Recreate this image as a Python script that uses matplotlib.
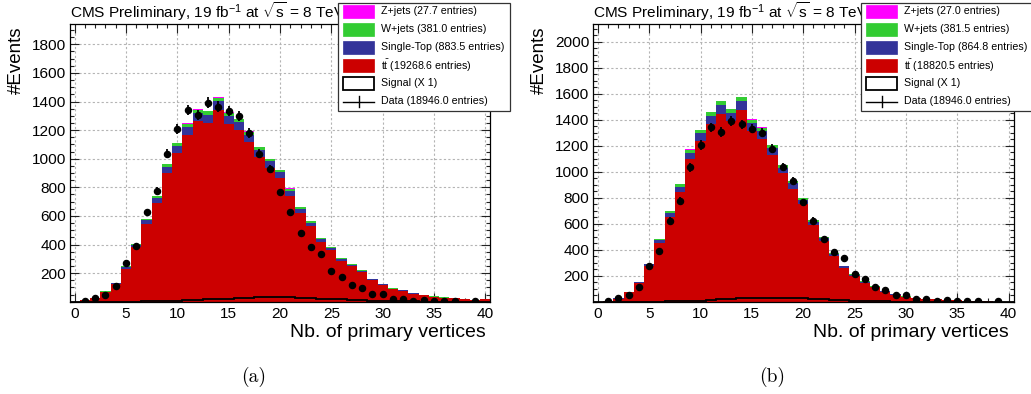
import numpy as np
import matplotlib
matplotlib.use("Agg")
import matplotlib.pyplot as plt
from matplotlib.patches import Rectangle
from matplotlib.lines import Line2D
from matplotlib.ticker import MultipleLocator

plt.rcParams["font.family"] = ["Liberation Sans", "DejaVu Sans"]
plt.rcParams["mathtext.fontset"] = "custom"
plt.rcParams["mathtext.rm"] = "Liberation Sans"
plt.rcParams["mathtext.it"] = "Liberation Sans:italic"
plt.rcParams["mathtext.bf"] = "Liberation Sans:bold"

W, H, DPI = 1031, 394, 100

# number of primary vertices (bin centres 0..40)
n_pv = np.arange(0, 41)

# observed data, shared by both panels
data_counts = [0, 3, 25, 50, 110, 272, 391, 624, 775, 1034, 1206, 1341, 1306, 1392,
               1365, 1332, 1300, 1178, 1036, 929, 764, 624, 480, 384, 335, 216, 172,
               116, 93, 51, 51, 22, 17, 6, 13, 3, 4, 2, 0, 2, 0]
data_entries = 18946.0

# panel (a) simulation
tt_a = [0, 10, 24, 68, 122, 231, 380, 543, 691, 902, 1039, 1169, 1261, 1250, 1341,
        1241, 1200, 1117, 1015, 938, 864, 742, 620, 528, 419, 360, 288, 247, 206,
        151, 119, 87, 76, 56, 46, 34, 28, 25, 17, 13, 17]
st_a = [0, 0, 1, 3, 6, 11, 18, 25, 32, 41, 48, 54, 58, 57, 61, 57, 55, 51, 47, 43,
        40, 34, 28, 24, 19, 17, 13, 11, 9, 7, 5, 4, 4, 3, 2, 2, 1, 1, 1, 1, 1]
wj_a = [0, 0, 0, 1, 2, 5, 8, 11, 14, 18, 20, 23, 25, 25, 26, 25, 24, 22, 20, 19,
        17, 15, 12, 10, 8, 7, 6, 5, 4, 3, 2, 2, 2, 1, 1, 1, 1, 0, 0, 0, 0]
zj_a = [0, 0, 0, 0, 0, 0, 1, 1, 1, 1, 1, 2, 2, 2, 2, 2, 2, 2, 1, 1,
        1, 1, 1, 1, 1, 0, 0, 0, 0, 0, 0, 0, 0, 0, 0, 0, 0, 0, 0, 0, 0]
sig_a = [0, 0, 0, 0, 0, 0, 1, 2, 3, 5, 7, 10, 13, 16, 19, 22, 25, 28, 30, 31, 31,
         30, 28, 25, 22, 19, 16, 13, 10, 8, 6, 4, 3, 2, 1, 1, 0, 0, 0, 0, 0]
yields_a = [27.7, 381.0, 883.5, 19268.6]

# panel (b) simulation
tt_b = [0, 5, 24, 73, 142, 276, 455, 655, 847, 1098, 1240, 1370, 1447, 1392, 1478,
        1315, 1256, 1130, 987, 871, 751, 590, 466, 351, 259, 199, 146, 111, 78,
        55, 38, 29, 22, 17, 12, 10, 5, 3, 2, 1, 1]
st_b = [0, 0, 1, 3, 6, 13, 21, 30, 39, 50, 57, 63, 66, 64, 68, 60, 58, 52, 45, 40,
        34, 27, 21, 16, 12, 9, 7, 5, 4, 3, 2, 1, 1, 1, 1, 0, 0, 0, 0, 0, 0]
wj_b = [0, 0, 0, 1, 3, 5, 9, 13, 17, 22, 24, 27, 29, 27, 29, 26, 25, 22, 19, 17,
        15, 12, 9, 7, 5, 4, 3, 2, 2, 1, 1, 1, 0, 0, 0, 0, 0, 0, 0, 0, 0]
zj_b = [0, 0, 0, 0, 0, 0, 1, 1, 1, 2, 2, 2, 2, 2, 2, 2, 2, 2, 1, 1,
        1, 1, 1, 0, 0, 0, 0, 0, 0, 0, 0, 0, 0, 0, 0, 0, 0, 0, 0, 0, 0]
sig_b = [0, 0, 0, 0, 0, 0, 1, 2, 4, 6, 9, 13, 17, 21, 25, 28, 30, 31, 30, 28, 25,
         21, 17, 13, 10, 7, 5, 3, 2, 1, 1, 0, 0, 0, 0, 0, 0, 0, 0, 0, 0]
yields_b = [27.0, 381.5, 864.8, 18820.5]

x_ticks = [0, 5, 10, 15, 20, 25, 30, 35, 40]
y_ticks_a = [200, 400, 600, 800, 1000, 1200, 1400, 1600, 1800]
y_ticks_b = [200, 400, 600, 800, 1000, 1200, 1400, 1600, 1800, 2000]

proc_names = ["Z+jets", "W+jets", "Single-Top", r"t$\bar{\mathrm{t}}$"]
proc_colors = ["#ff00ff", "#33cc33", "#333399", "#cc0000"]
title = r"CMS Preliminary, 19 fb$^{\mathrm{-1}}$ at $\sqrt{\mathrm{s}}$ = 8 TeV"


def fx(px):
    return px / W


def fy(py):
    return 1 - py / H


fig = plt.figure(figsize=(W / DPI, H / DPI), dpi=DPI)
edges = np.arange(-0.5, 41.5, 1.0)


def draw_panel(left_px, comps, sig, ymax, yticks):
    ax = fig.add_axes([fx(left_px), fy(301.7), 421.0 / W, (301.7 - 24.3) / H])
    tt, st, wj, zj = [np.asarray(c, float) for c in comps]
    base = np.zeros_like(tt)
    for vals, col in zip([tt, st, wj, zj], proc_colors[::-1]):
        ax.stairs(base + vals, edges, baseline=base, fill=True,
                  facecolor=col, edgecolor="none", lw=0, zorder=2)
        base = base + vals
    ax.stairs(np.asarray(sig, float), edges, baseline=0, color="black",
              lw=1.3, zorder=3)
    d = np.asarray(data_counts, float)
    m = d > 0
    ax.errorbar(n_pv[m], d[m], yerr=np.sqrt(d[m]), fmt="o", color="black",
                ms=4.4, elinewidth=1.3, capsize=0, zorder=4)
    ax.set_xlim(-0.5, 40.5)
    ax.set_ylim(0, ymax)
    ax.set_xticks(x_ticks)
    ax.set_yticks(yticks)
    ax.xaxis.set_minor_locator(MultipleLocator(1))
    ax.yaxis.set_minor_locator(MultipleLocator(50))
    ax.set_axisbelow(True)
    ax.grid(True, which="major", ls=(0, (2, 2)), color="#b4b4b4", lw=0.8)
    ax.tick_params(which="both", direction="in", top=True, right=True,
                   labelsize=11.1, color="#222222")
    ax.tick_params(which="major", length=6.3, width=0.8)
    ax.tick_params(which="minor", length=3.2, width=0.8)
    ax.tick_params(axis="x", pad=4)
    ax.tick_params(axis="y", pad=2.5)
    for s in ax.spines.values():
        s.set_linewidth(0.9)
    return ax


def draw_legend(left_px, yields):
    top, bottom, width = 2.7, 111.0, 172.0
    fig.patches.append(Rectangle((fx(left_px), fy(bottom)), width / W,
                                 (bottom - top) / H, transform=fig.transFigure,
                                 facecolor="white", edgecolor="#333333",
                                 lw=0.9, zorder=10))
    px0, pw, ph = left_px + 5.0, 31.6, 13.4
    labels = [f"{n} ({y:.1f} entries)" for n, y in zip(proc_names, yields)]
    labels += ["Signal (X 1)", f"Data ({data_entries:.1f} entries)"]
    for i, lab in enumerate(labels):
        yc = 11.5 + 18.0 * i
        if i < 4:
            fig.patches.append(Rectangle((fx(px0), fy(yc + ph / 2)), pw / W, ph / H,
                                         transform=fig.transFigure,
                                         facecolor=proc_colors[i],
                                         edgecolor=proc_colors[i], lw=0.5,
                                         zorder=11))
        elif i == 4:
            fig.patches.append(Rectangle((fx(px0), fy(yc + ph / 2)), pw / W, ph / H,
                                         transform=fig.transFigure,
                                         facecolor="white", edgecolor="black",
                                         lw=1.3, zorder=11))
        else:
            fig.lines.append(Line2D([fx(px0), fx(px0 + pw)], [fy(yc), fy(yc)],
                                    transform=fig.transFigure, color="black",
                                    lw=1.0, zorder=11))
            fig.lines.append(Line2D([fx(px0 + pw / 2)] * 2,
                                    [fy(yc - 5.5), fy(yc + 5.5)],
                                    transform=fig.transFigure, color="black",
                                    lw=1.0, zorder=11))
        fig.text(fx(left_px + 43.3), fy(yc), lab, fontsize=7.7, va="center",
                 ha="left", zorder=12)


panels = [
    (69.5, [tt_a, st_a, wj_a, zj_a], sig_a, 1940, y_ticks_a, yields_a,
     337.7, 16.2, 253.5, "(a)"),
    (592.7, [tt_b, st_b, wj_b, zj_b], sig_b, 2135, y_ticks_b, yields_b,
     860.7, 539.3, 772.5, "(b)"),
]

for (lpx, comps, sig, ymax, yt, ylds, leg_px, ylab_px, cap_px, cap) in panels:
    draw_panel(lpx, comps, sig, ymax, yt)
    fig.text(fx(lpx + 0.5), fy(17.7), title, fontsize=11.1, ha="left",
             va="baseline")
    fig.text(fx(ylab_px), fy(26.7), "#Events", fontsize=13.5, rotation=90,
             ha="center", va="top")
    fig.text(fx(lpx + 416.5), fy(337.0), "Nb. of primary vertices",
             fontsize=14, ha="right", va="baseline")
    fig.text(fx(cap_px), fy(377.0), cap, fontsize=14, family="cmr10",
             ha="center", va="center")
    draw_legend(leg_px, ylds)

fig.savefig("out.png", dpi=DPI)
